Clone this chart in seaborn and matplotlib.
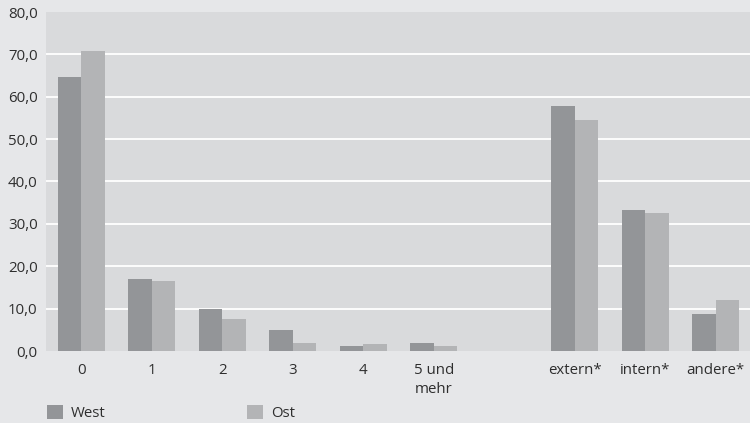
import matplotlib
matplotlib.use("Agg")
import matplotlib.pyplot as plt
import seaborn as sns
import pandas as pd
from matplotlib.patches import Patch
from matplotlib.ticker import FuncFormatter

categories = ["0", "1", "2", "3", "4", "5 und\nmehr", "extern*", "intern*", "andere*"]
west = [64.7, 16.9, 9.9, 5.0, 1.1, 1.8, 57.7, 33.2, 8.8]
ost = [70.9, 16.6, 7.5, 1.8, 1.6, 1.1, 54.4, 32.6, 12.1]
series = ["West", "Ost"]
colors = {"West": "#939598", "Ost": "#b3b4b6"}

# spacer category gives the empty slot before the "extern*" group
order = categories[:6] + [" "] + categories[6:]

df = pd.DataFrame({
    "Kategorie": categories * 2,
    "Region": ["West"] * len(categories) + ["Ost"] * len(categories),
    "Wert": west + ost,
})

sns.set_theme(style="white")
plt.rcParams["font.family"] = ["Open Sans", "DejaVu Sans"]
text_color = "#2e2e2e"
fs = 10.8

fig = plt.figure(figsize=(7.5, 4.23), dpi=100, facecolor="#e6e7e9")
ax = fig.add_axes([46 / 750, 1 - 351 / 423, 705 / 750, 339 / 423])
ax.set_facecolor("#d9dadc")

sns.barplot(data=df, x="Kategorie", y="Wert", hue="Region", order=order,
            hue_order=series, palette=colors, width=0.67, gap=0,
            saturation=1, linewidth=0, legend=False, ax=ax)

ax.set_xlim(-0.5, 9.5)
ax.set_ylim(0, 80)
ax.set_yticks(range(0, 81, 10))
ax.yaxis.set_major_formatter(FuncFormatter(lambda v, _: f"{v:.1f}".replace(".", ",")))
# white grid only between the edges (no line at 0 and 80)
for v in range(10, 80, 10):
    ax.axhline(v, color="white", linewidth=1.3, zorder=0.5)
for s in ax.spines.values():
    s.set_visible(False)
ax.tick_params(length=0, labelsize=fs, colors=text_color)
ax.tick_params(axis="y", pad=6)
ax.tick_params(axis="x", pad=8.5)
for lbl in ax.get_xticklabels():
    lbl.set_linespacing(1.4)
ax.set_xlabel("")
ax.set_ylabel("")

handles = [Patch(facecolor=colors[s], edgecolor="none", label=s) for s in series]
fig.legend(handles=handles, loc="lower left", bbox_to_anchor=(33 / 750, -0.028),
           ncol=2, frameon=False, fontsize=fs, handlelength=1.07, handleheight=1.07,
           handletextpad=0.55, columnspacing=9.4, labelcolor=text_color)

fig.savefig("out.png", dpi=100, facecolor=fig.get_facecolor())
plt.close(fig)
